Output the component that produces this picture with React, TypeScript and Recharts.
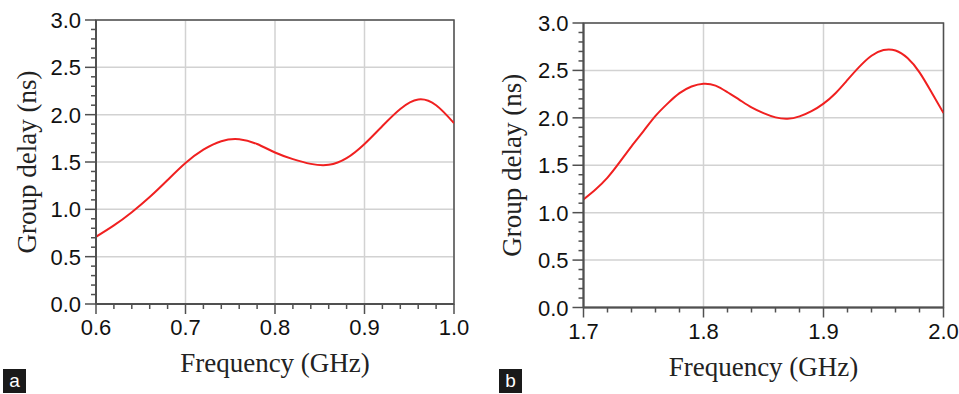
import React from "react";
import {
  CartesianGrid,
  Line,
  LineChart,
  ReferenceArea,
  XAxis,
  YAxis,
} from "recharts";

// panel (a): 0.6 - 1.0 GHz
const freqA = [
  0.6, 0.62, 0.64, 0.66, 0.68, 0.7, 0.72, 0.74, 0.76, 0.78, 0.8, 0.82, 0.84,
  0.86, 0.88, 0.9, 0.92, 0.94, 0.96, 0.98, 1.0,
];
const delayA = [
  0.71, 0.83, 0.97, 1.13, 1.31, 1.49, 1.63, 1.72, 1.74, 1.69, 1.6, 1.53, 1.48,
  1.47, 1.54, 1.69, 1.88, 2.06, 2.16, 2.1, 1.91,
];

// panel (b): 1.7 - 2.0 GHz
const freqB = [
  1.7, 1.71, 1.72, 1.73, 1.74, 1.75, 1.76, 1.77, 1.78, 1.79, 1.8, 1.81, 1.82,
  1.83, 1.84, 1.85, 1.86, 1.87, 1.88, 1.89, 1.9, 1.91, 1.92, 1.93, 1.94, 1.95,
  1.96, 1.97, 1.98, 1.99, 2.0,
];
const delayB = [
  1.14, 1.245, 1.37, 1.53, 1.7, 1.86, 2.02, 2.15, 2.26, 2.33, 2.36, 2.34, 2.27,
  2.19, 2.11, 2.05, 2.005, 1.99, 2.015, 2.07, 2.15, 2.26, 2.4, 2.54, 2.655,
  2.715, 2.71, 2.63, 2.48, 2.27, 2.05,
];

// tick positions (majors get labels, the rest are minor marks)
const xTicksA = [
  0.6, 0.62, 0.64, 0.66, 0.68, 0.7, 0.72, 0.74, 0.76, 0.78, 0.8, 0.82, 0.84,
  0.86, 0.88, 0.9, 0.92, 0.94, 0.96, 0.98, 1.0,
];
const xMajorA = [0.6, 0.7, 0.8, 0.9, 1.0];
const xTicksB = [
  1.7, 1.72, 1.74, 1.76, 1.78, 1.8, 1.82, 1.84, 1.86, 1.88, 1.9, 1.92, 1.94,
  1.96, 1.98, 2.0,
];
const xMajorB = [1.7, 1.8, 1.9, 2.0];
const yTicks = [
  0, 0.1, 0.2, 0.3, 0.4, 0.5, 0.6, 0.7, 0.8, 0.9, 1.0, 1.1, 1.2, 1.3, 1.4, 1.5,
  1.6, 1.7, 1.8, 1.9, 2.0, 2.1, 2.2, 2.3, 2.4, 2.5, 2.6, 2.7, 2.8, 2.9, 3.0,
];
const yMajor = [0, 0.5, 1.0, 1.5, 2.0, 2.5, 3.0];

const dataA = freqA.map((f, i) => ({ f, d: delayA[i] }));
const dataB = freqB.map((f, i) => ({ f, d: delayB[i] }));

const AXIS = "#505050";
const GRID = "#d2d2d2";
const RED = "#f02020";
const SANS = "'Liberation Sans', Arial, sans-serif";
const SERIF = "'Liberation Serif', 'Times New Roman', serif";

const isMajor = (v: number, step: number) =>
  Math.abs(v / step - Math.round(v / step)) < 1e-6;

const XTick = (props: any) => {
  const { x, y, payload } = props;
  const v = payload.value;
  const major = isMajor(v, 0.1);
  return (
    <g>
      <line x1={x} x2={x} y1={y} y2={y + (major ? 10 : 5)} stroke={AXIS} strokeWidth={1.5} />
      {major && (
        <text x={x} y={y + 31} textAnchor="middle" fontSize={22} fontFamily={SANS} fill="#111">
          {v.toFixed(1)}
        </text>
      )}
    </g>
  );
};

const YTick = (props: any) => {
  const { x, y, payload } = props;
  const v = payload.value;
  const major = isMajor(v, 0.5);
  return (
    <g>
      <line x1={x - (major ? 11 : 5)} x2={x} y1={y} y2={y} stroke={AXIS} strokeWidth={1.5} />
      {major && (
        <text x={x - 15} y={y + 8} textAnchor="end" fontSize={22} fontFamily={SANS} fill="#111">
          {v.toFixed(1)}
        </text>
      )}
    </g>
  );
};

const XTitle = (props: any) => {
  const vb = props.viewBox || {};
  return (
    <text
      x={vb.x + vb.width / 2}
      y={vb.y + props.dy}
      textAnchor="middle"
      fontSize={27}
      fontFamily={SERIF}
      fill="#222"
    >
      {props.text}
    </text>
  );
};

const YTitle = (props: any) => {
  const vb = props.viewBox || {};
  const cx = vb.x + props.dx;
  const cy = vb.y + vb.height / 2;
  return (
    <text
      x={cx}
      y={cy}
      transform={`rotate(-90, ${cx}, ${cy})`}
      textAnchor="middle"
      dominantBaseline="central"
      fontSize={27}
      fontFamily={SERIF}
      fill="#222"
    >
      {props.text}
    </text>
  );
};

interface PanelProps {
  data: { f: number; d: number }[];
  xDomain: [number, number];
  xTicks: number[];
  xMajor: number[];
  width: number;
  margin: { top: number; right: number; bottom: number; left: number };
  yWidth: number;
  xHeight: number;
  titleDx: number;
}

const Panel = ({ data, xDomain, xTicks, xMajor, width, margin, yWidth, xHeight, titleDx }: PanelProps) => (
  <LineChart width={width} height={394} data={data} margin={margin}>
    <CartesianGrid
      stroke={GRID}
      strokeWidth={1.5}
      verticalValues={xMajor}
      horizontalValues={yMajor}
    />
    <XAxis
      dataKey="f"
      type="number"
      domain={xDomain}
      ticks={xTicks}
      interval={0}
      height={xHeight}
      tickSize={0}
      tickMargin={0}
      tickLine={false}
      tick={<XTick />}
      axisLine={{ stroke: AXIS, strokeWidth: 2 }}
      allowDataOverflow
      label={<XTitle text="Frequency (GHz)" dy={68} />}
    />
    <YAxis
      type="number"
      domain={[0, 3]}
      ticks={yTicks}
      interval={0}
      width={yWidth}
      tickSize={0}
      tickMargin={0}
      tickLine={false}
      tick={<YTick />}
      axisLine={{ stroke: AXIS, strokeWidth: 2 }}
      allowDataOverflow
      label={<YTitle text="Group delay (ns)" dx={titleDx} />}
    />
    <ReferenceArea
      x1={xDomain[0]}
      x2={xDomain[1]}
      y1={0}
      y2={3}
      fill="none"
      stroke={AXIS}
      strokeWidth={1.5}
    />
    <Line
      type="natural"
      dataKey="d"
      stroke={RED}
      strokeWidth={2}
      dot={false}
      isAnimationActive={false}
    />
  </LineChart>
);

const tagStyle = (left: number): React.CSSProperties => ({
  position: "absolute",
  left,
  top: 369,
  width: 23,
  height: 24,
  background: "#1a1a1a",
  color: "#fff",
  fontFamily: SANS,
  fontSize: 19,
  lineHeight: "23px",
  textAlign: "center",
});

export default function App() {
  return (
    <div
      style={{
        position: "absolute",
        left: 0,
        top: 0,
        width: 959,
        height: 394,
        background: "#fff",
        overflow: "hidden",
      }}
    >
      <div style={{ position: "absolute", left: 0, top: 0 }}>
        <Panel
          data={dataA}
          xDomain={[0.6, 1.0]}
          xTicks={xTicksA}
          xMajor={xMajorA}
          width={480}
          margin={{ top: 20, right: 26, bottom: 0, left: 0 }}
          yWidth={96}
          xHeight={90}
          titleDx={27}
        />
      </div>
      <div style={{ position: "absolute", left: 480, top: 0 }}>
        <Panel
          data={dataB}
          xDomain={[1.7, 2.0]}
          xTicks={xTicksB}
          xMajor={xMajorB}
          width={479}
          margin={{ top: 23, right: 15.5, bottom: 0, left: 0 }}
          yWidth={103.5}
          xHeight={86.5}
          titleDx={32}
        />
      </div>
      <div style={tagStyle(3)}>a</div>
      <div style={tagStyle(499)}>b</div>
    </div>
  );
}
